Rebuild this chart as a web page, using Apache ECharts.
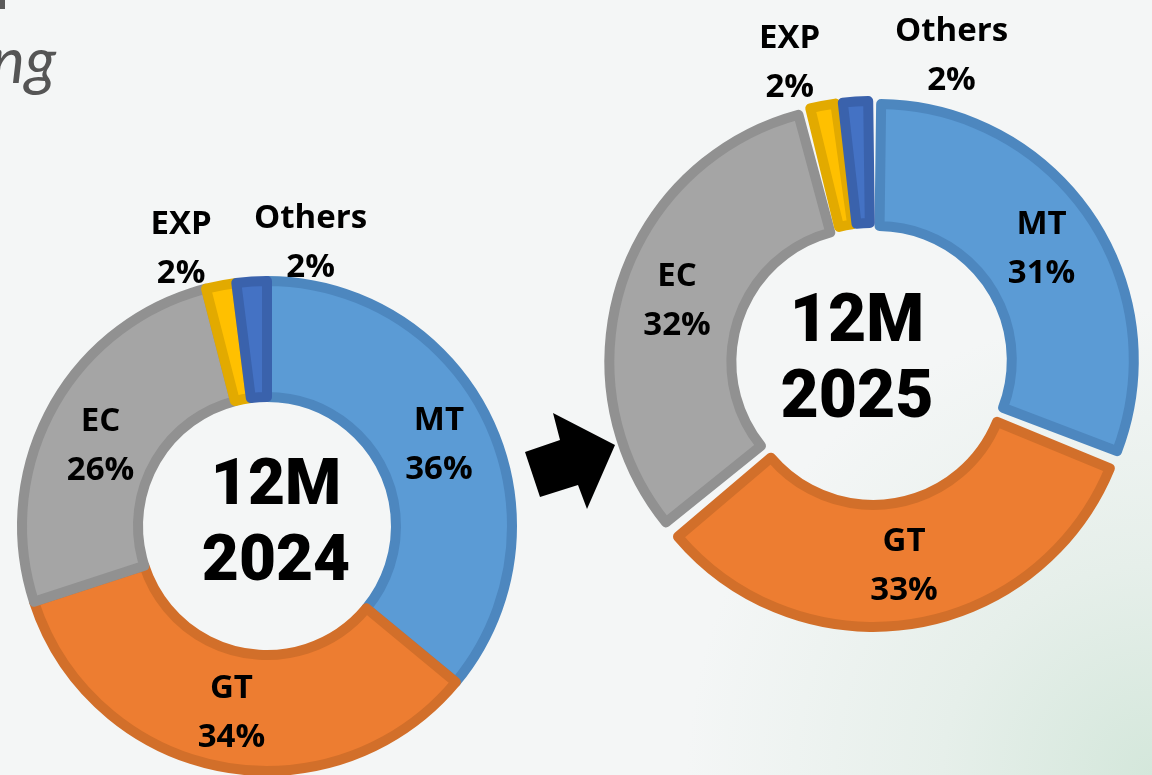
<!DOCTYPE html>
<html><head><meta charset="utf-8">
<script src="https://cdn.jsdelivr.net/npm/echarts@6/dist/echarts.min.js"></script>
<style>html,body{margin:0;padding:0;background:#f4f6f6;} #c{width:1152px;height:775px;}</style>
</head><body><div id="c"></div>
<script>
// ---- data ----
const categories = ['MT', 'GT', 'EC', 'EXP', 'Others'];
const values2024 = [36, 34, 26, 2, 2];
const values2025 = [31, 33, 32, 2, 2];
const centerTitles = ['12M\n2024', '12M\n2025'];
const outsideCategories = ['EXP', 'Others'];

// ---- styles ----
const fillColors = ['#5B9BD5', '#ED7D31', '#A5A5A5', '#FFC000', '#4472C4'];
const bandColors = ['#4D87BF', '#D26F2A', '#919191', '#E2AA00', '#3A62AC'];
const labelFont = '"Open Sans"';

function buildData(values, exploded) {
  return categories.map((name, i) => {
    const item = {
      name: name,
      value: values[i],
      itemStyle: { color: fillColors[i], borderColor: bandColors[i] }
    };
    if (exploded) item.selected = true;
    if (outsideCategories.indexOf(name) >= 0) {
      item.label = { position: 'outside' };
    }
    return item;
  });
}

// outside label nudges (layout only)
const outsideShift = {
  0: { EXP: [-40, -36], Others: [59, -38] },
  1: { EXP: [-33, -43], Others: [96, -45] }
};
const insideShift = {
  0: { EC: [0, 12] },
  1: {}
};

function pieSeries(idx, values, center, radius, exploded) {
  return {
    type: 'pie',
    center: center,
    radius: radius,
    startAngle: 90,
    clockwise: true,
    avoidLabelOverlap: false,
    selectedMode: exploded ? 'multiple' : false,
    selectedOffset: 7,
    padAngle: exploded ? 1.5 : 0,
    animation: false,
    emphasis: { disabled: true },
    itemStyle: { borderWidth: 10 },
    label: {
      show: true,
      position: 'inside',
      formatter: '{b}\n{c}%',
      fontFamily: labelFont,
      fontWeight: 'bold',
      fontSize: 33,
      lineHeight: 49,
      color: '#000',
      distanceToLabelLine: 0
    },
    labelLine: { show: false, length: 0, length2: 0 },
    labelLayout: function (p) {
      const name = categories[p.dataIndex];
      const s = outsideShift[idx][name];
      if (s) return { dx: s[0], dy: s[1], align: 'center' };
      const t = insideShift[idx][name];
      if (t) return { dx: t[0], dy: t[1] };
      return {};
    },
    data: buildData(values, exploded)
  };
}

const chart = echarts.init(document.getElementById('c'), null, { renderer: 'canvas' });
const leftCenter = [267, 526];
const rightCenter = [872, 364];
const leftTitlePos = [276, 526];
const rightTitlePos = [857, 362];

chart.setOption({
  backgroundColor: new echarts.graphic.RadialGradient(1, 1, 0.6, [
    { offset: 0, color: '#D4E7DB' },
    { offset: 0.45, color: '#E6EFEA' },
    { offset: 1, color: '#F4F6F6' }
  ]),
  series: [
    pieSeries(0, values2024, leftCenter, [129, 245], false),
    pieSeries(1, values2025, rightCenter, [134, 256], true)
  ],
  graphic: [
    {
      type: 'rect', shape: { x: 0, y: 0, width: 5, height: 9 },
      style: { fill: '#5a5a5a' }
    },
    {
      type: 'text', x: 56, y: 62,
      style: {
        text: 'ng', align: 'right', verticalAlign: 'middle',
        font: 'italic 64px Lato', fill: '#555555',
        shadowBlur: 3, shadowColor: 'rgba(0,0,0,0.35)', shadowOffsetX: 2, shadowOffsetY: 2
      }
    },
    {
      type: 'polygon',
      shape: { points: [[540, 497], [525, 452], [560, 440], [553, 413], [615, 445], [587, 509], [578, 485]] },
      style: { fill: '#000' }
    },
    {
      type: 'text', x: leftTitlePos[0], y: leftTitlePos[1],
      style: {
        text: centerTitles[0], align: 'center', verticalAlign: 'middle',
        font: '900 64px Roboto', lineHeight: 76, fill: '#000'
      }
    },
    {
      type: 'text', x: rightTitlePos[0], y: rightTitlePos[1],
      style: {
        text: centerTitles[1], align: 'center', verticalAlign: 'middle',
        font: '900 66px Roboto', lineHeight: 76, fill: '#000'
      }
    }
  ]
});
</script>
</body></html>
